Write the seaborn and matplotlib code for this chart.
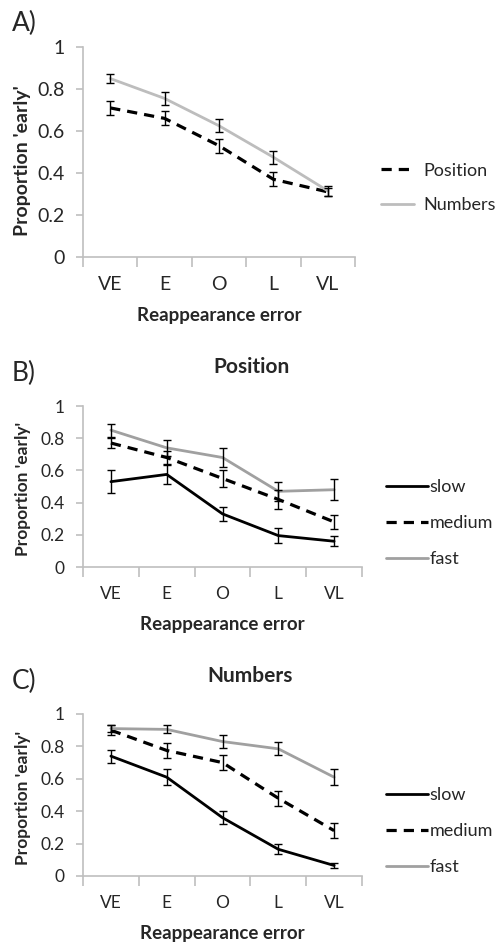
import matplotlib
matplotlib.use("Agg")
import matplotlib.pyplot as plt
import seaborn as sns
import numpy as np
import pandas as pd

sns.set_style("white")
plt.rcParams['font.family'] = ['Lato', 'DejaVu Sans']

categories = ["VE", "E", "O", "L", "VL"]

# Panel A
a_position = [0.71, 0.66, 0.53, 0.37, 0.31]
a_position_err = [0.033, 0.033, 0.033, 0.033, 0.02]
a_numbers = [0.85, 0.755, 0.625, 0.475, 0.315]
a_numbers_err = [0.02, 0.03, 0.03, 0.03, 0.025]

# Panel B (Position)
b_slow = [0.53, 0.575, 0.33, 0.195, 0.16]
b_slow_err = [0.07, 0.06, 0.045, 0.045, 0.03]
b_medium = [0.77, 0.68, 0.55, 0.42, 0.28]
b_medium_err = [0.03, 0.04, 0.05, 0.06, 0.045]
b_fast = [0.85, 0.74, 0.68, 0.47, 0.48]
b_fast_err = [0.04, 0.05, 0.06, 0.06, 0.065]

# Panel C (Numbers)
c_slow = [0.74, 0.61, 0.36, 0.165, 0.065]
c_slow_err = [0.04, 0.05, 0.04, 0.03, 0.015]
c_medium = [0.90, 0.775, 0.70, 0.48, 0.28]
c_medium_err = [0.03, 0.045, 0.045, 0.045, 0.045]
c_fast = [0.91, 0.905, 0.83, 0.785, 0.61]
c_fast_err = [0.02, 0.025, 0.04, 0.04, 0.05]

yticks = [0, 0.2, 0.4, 0.6, 0.8, 1]
ytick_labels = ["0", "0.2", "0.4", "0.6", "0.8", "1"]

SPINE = "#bfbfbf"

fig = plt.figure(figsize=(5.01, 9.44), dpi=100)
axA = fig.add_axes([83/501, 1-257/944, 272/501, 210/944])
axB = fig.add_axes([83/501, 1-567/944, 279/501, 161/944])
axC = fig.add_axes([83/501, 1-876/944, 279/501, 162/944])


def draw_series(ax, vals, errs, label, color, dashed, lw):
    df = pd.DataFrame({"cat": categories, "val": vals})
    sns.lineplot(data=df, x="cat", y="val", ax=ax, color=color, lw=lw,
                 label=label, linestyle=(0, (3.2, 2.2)) if dashed else "-",
                 sort=False)
    ax.errorbar(np.arange(len(categories)), vals, yerr=errs, fmt="none",
                ecolor="black", elinewidth=1.0, capsize=3.2, capthick=1.0,
                zorder=5)


def style_axis(ax, tick_fs, ylab_fs, xlab_fs, ylab_y):
    ax.set_xlim(-0.5, len(categories) - 0.5)
    ax.set_ylim(0, 1)
    for s in ["top", "right"]:
        ax.spines[s].set_visible(False)
    for s in ["left", "bottom"]:
        ax.spines[s].set_color(SPINE)
        ax.spines[s].set_linewidth(1.2)
    ax.set_yticks(yticks)
    ax.set_yticklabels(ytick_labels, fontsize=tick_fs)
    ax.tick_params(axis="y", direction="out", length=5, color=SPINE, pad=8,
                   left=True, width=1.2)
    ax.set_xticks(np.arange(-0.5, len(categories), 1.0))
    ax.set_xticklabels([])
    ax.tick_params(axis="x", which="major", direction="out", length=7,
                   color=SPINE, bottom=True, width=1.2)
    ax.set_xticks(np.arange(len(categories)), minor=True)
    ax.set_xticklabels(categories, minor=True, fontsize=tick_fs)
    ax.tick_params(axis="x", which="minor", length=0, pad=14)
    ax.set_ylabel("Proportion 'early'", fontsize=ylab_fs, fontweight="bold")
    ax.yaxis.set_label_coords(31/501, 1-ylab_y/944, transform=fig.transFigure)
    ax.set_xlabel("Reappearance error", fontsize=xlab_fs, fontweight="bold",
                  labelpad=10)
    ax.grid(False)


# Panel A
draw_series(axA, a_position, a_position_err, "Position", "black", True, 2.3)
draw_series(axA, a_numbers, a_numbers_err, "Numbers", "#bdbdbd", False, 2.0)
style_axis(axA, 14, 14, 13.5, 161)
axA.legend(loc="center left", bbox_to_anchor=(381/501, 1-188/944),
           bbox_transform=fig.transFigure, frameon=False, fontsize=13,
           handlelength=1.8, handletextpad=0.55, labelspacing=1.05,
           borderaxespad=0, borderpad=0)

# Panel B
draw_series(axB, b_slow, b_slow_err, "slow", "black", False, 2.0)
draw_series(axB, b_medium, b_medium_err, "medium", "black", True, 2.3)
draw_series(axB, b_fast, b_fast_err, "fast", "#a0a0a0", False, 2.0)
style_axis(axB, 12.5, 12.5, 13.5, 489)
axB.legend(loc="center left", bbox_to_anchor=(386/501, 1-523/944),
           bbox_transform=fig.transFigure, frameon=False, fontsize=13,
           handlelength=2.3, handletextpad=0.12, labelspacing=1.1,
           borderaxespad=0, borderpad=0)

# Panel C
draw_series(axC, c_slow, c_slow_err, "slow", "black", False, 2.0)
draw_series(axC, c_medium, c_medium_err, "medium", "black", True, 2.3)
draw_series(axC, c_fast, c_fast_err, "fast", "#a0a0a0", False, 2.0)
style_axis(axC, 12.5, 12.5, 13.5, 798)
axC.legend(loc="center left", bbox_to_anchor=(386/501, 1-831/944),
           bbox_transform=fig.transFigure, frameon=False, fontsize=13,
           handlelength=2.3, handletextpad=0.12, labelspacing=1.1,
           borderaxespad=0, borderpad=0)

# Panel labels and titles
fig.text(12/501, 1-23/944, "A)", fontsize=19, va="center", ha="left")
fig.text(12/501, 1-373/944, "B)", fontsize=19, va="center", ha="left")
fig.text(12/501, 1-681/944, "C)", fontsize=19, va="center", ha="left")
fig.text(252/501, 1-367/944, "Position", fontsize=15, fontweight="bold",
         ha="center", va="center")
fig.text(250/501, 1-676/944, "Numbers", fontsize=15, fontweight="bold",
         ha="center", va="center")

fig.savefig("out.png", dpi=100)
